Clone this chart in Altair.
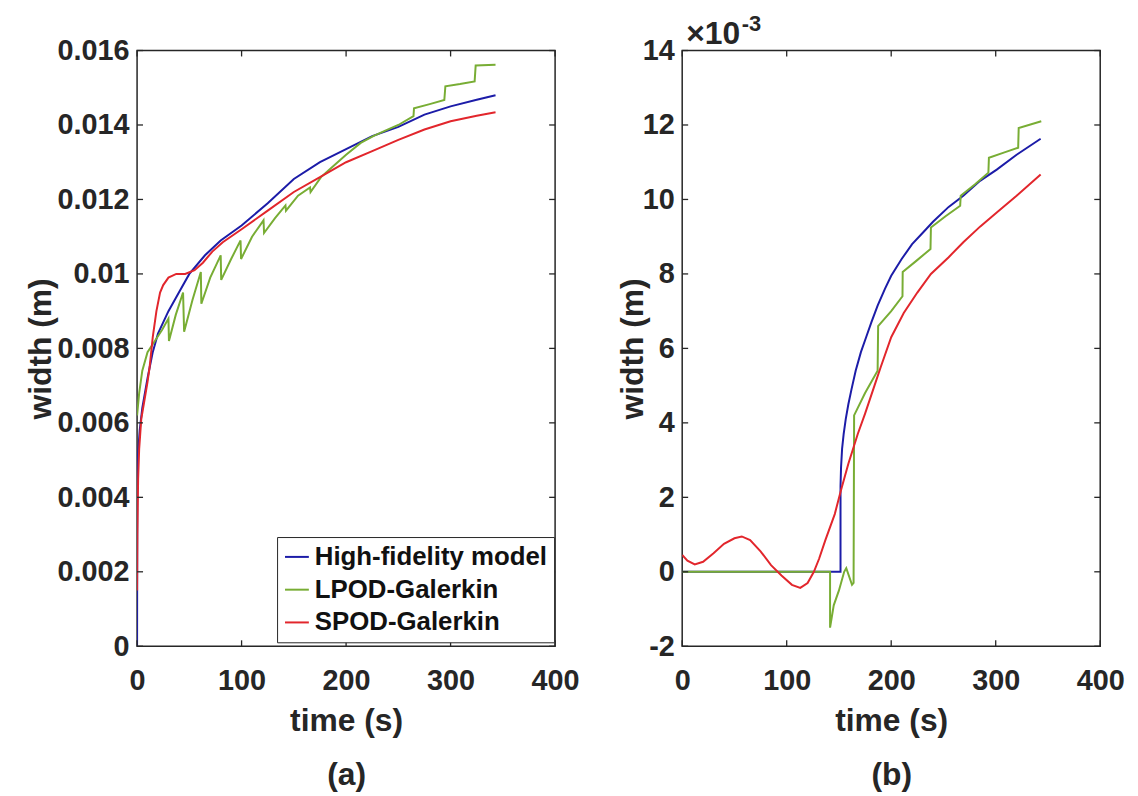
import altair as alt
import pandas as pd

series_names = ["High-fidelity model", "LPOD-Galerkin", "SPOD-Galerkin"]
series_colors = ["#1c1ca8", "#78ad34", "#e2262c"]

# ---------- panel (a) ----------
a_hf_t = [0, 0.2, 1, 2.5, 5, 10, 15, 20, 30, 40, 50, 65, 80, 100, 125, 150, 175, 200, 225, 250, 275, 300, 325, 343]
a_hf_w = [0, 0.0045, 0.0052, 0.0058, 0.0064, 0.0072, 0.0079, 0.0084, 0.0090, 0.0095, 0.0100, 0.0105, 0.0109,
          0.0113, 0.0119, 0.01255, 0.0130, 0.01335, 0.0137, 0.01395, 0.01428, 0.0145, 0.01468, 0.0148]

a_lp_t = [0, 2, 5, 10, 17, 24, 30, 30.5, 37, 44, 45, 53, 61, 61.5, 70, 80, 80.5, 90, 99, 99.5, 110, 121, 121.5,
          132, 142, 142.5, 154, 165.5, 166, 176, 186, 200, 214, 226, 237, 250, 264.5, 265, 280, 294, 295, 309,
          323, 324, 343]
a_lp_w = [0.0062, 0.0068, 0.0074, 0.0079, 0.0082, 0.0085, 0.0088, 0.0082, 0.0089, 0.0095, 0.00845, 0.0093,
          0.01005, 0.0092, 0.0099, 0.0105, 0.00984, 0.0104, 0.0109, 0.0104, 0.0110, 0.01144, 0.0111, 0.0115,
          0.01184, 0.0117, 0.0121, 0.01232, 0.0122, 0.0126, 0.01285, 0.0132, 0.01352, 0.0137, 0.01384, 0.0140,
          0.01424, 0.01445, 0.01456, 0.01467, 0.01504, 0.0151, 0.01517, 0.0156, 0.01562]

a_sp_t = [0, 0.3, 1, 2, 4, 7, 10, 12, 15, 18.5, 22, 25, 30, 37.5, 46, 55, 63, 72, 82, 100, 125, 150, 175, 200,
          225, 250, 275, 300, 325, 343]
a_sp_w = [0.0015, 0.0030, 0.0045, 0.0053, 0.0061, 0.0066, 0.0071, 0.0075, 0.0083, 0.0090, 0.0095, 0.0097,
          0.0099, 0.0100, 0.0100, 0.0101, 0.0103, 0.0106, 0.01085, 0.0112, 0.0117, 0.0122, 0.0126, 0.0130,
          0.0133, 0.0136, 0.01388, 0.0141, 0.01425, 0.01434]

# ---------- panel (b), values in 1e-3 m ----------
b_hf_t = [0, 151.5, 151.5, 152, 153, 154.5, 156.5, 159, 162, 166, 171, 176, 181, 187, 194, 200, 210, 220, 230,
          240, 255, 269, 285, 301, 320, 343]
b_hf_w = [0, 0, 2.3, 2.8, 3.3, 3.7, 4.1, 4.5, 4.9, 5.4, 5.9, 6.3, 6.7, 7.15, 7.6, 7.95, 8.4, 8.8, 9.1,
          9.4, 9.8, 10.1, 10.5, 10.8, 11.2, 11.63]

b_lp_t = [0, 141.5, 141.5, 145, 150, 155, 157, 162.5, 164, 164.5, 175, 187, 187.5, 200, 210.8, 211, 224, 237.6,
          238, 252, 266, 266.5, 280, 293, 293.5, 307, 321.5, 322, 343.6]
b_lp_w = [0, 0, -1.5, -0.9, -0.5, 0.0, 0.1, -0.35, -0.3, 4.2, 4.8, 5.4, 6.6, 7.0, 7.4, 8.05, 8.35, 8.67,
          9.25, 9.55, 9.83, 10.1, 10.4, 10.72, 11.12, 11.25, 11.39, 11.92, 12.1]

b_sp_t = [0, 5, 12, 20, 30, 40, 50, 57, 65, 75, 85, 95, 105, 113, 120, 126, 131, 137, 146, 152, 159, 168, 175,
          184, 190, 200, 212, 225, 238, 255, 269, 285, 301, 320, 343]
b_sp_w = [0.45, 0.3, 0.2, 0.27, 0.5, 0.75, 0.9, 0.95, 0.85, 0.55, 0.18, -0.1, -0.35, -0.43, -0.3, 0.0, 0.35,
          0.85, 1.55, 2.2, 2.9, 3.7, 4.25, 5.0, 5.5, 6.3, 6.95, 7.5, 8.0, 8.45, 8.85, 9.27, 9.65, 10.1, 10.67]

x_ticks = [0, 100, 200, 300, 400]
ya_ticks = [0, 0.002, 0.004, 0.006, 0.008, 0.01, 0.012, 0.014, 0.016]
yb_ticks = [-2, 0, 2, 4, 6, 8, 10, 12, 14]

FONT = "Liberation Sans"
AXC = "#262626"
W, H = 421, 600


def frame(ts, ws, name):
    return pd.DataFrame({"t": ts, "w": ws, "series": name, "i": list(range(len(ts)))})


def panel(dfs, ydom, yticks, label_expr, sub, y_title_x, legend, extra=None):
    df = pd.concat(dfs, ignore_index=True)
    xs = alt.Scale(domain=[0, 400], nice=False, zero=False)
    ys = alt.Scale(domain=ydom, nice=False, zero=False)
    x_axis = alt.Axis(values=x_ticks, title=["time (s)", sub], titleLineHeight=54,
                      labelPadding=21, titlePadding=10, labelFlush=False)
    y_axis = alt.Axis(values=yticks, title="width (m)", labelExpr=label_expr,
                      labelPadding=8, titleX=y_title_x, titleY=H / 2, titleBaseline="middle",
                      labelFlush=False)
    bx = alt.X("t:Q", scale=xs, axis=x_axis)
    by = alt.Y("w:Q", scale=ys, axis=y_axis)
    lines = alt.Chart(df).mark_line(strokeWidth=2, clip=True).encode(
        x=bx, y=by,
        color=alt.Color("series:N", scale=alt.Scale(domain=series_names, range=series_colors), legend=legend),
        detail="series:N",
        order="i:Q",
    )
    xt = pd.DataFrame({"t": x_ticks})
    yt = pd.DataFrame({"w": yticks})
    tick = dict(color=AXC, strokeWidth=1.3)
    t_bot = alt.Chart(xt).mark_rule(**tick).encode(x=bx, y=alt.value(H), y2=alt.value(H - 6))
    t_top = alt.Chart(xt).mark_rule(**tick).encode(x=bx, y=alt.value(0), y2=alt.value(6))
    t_left = alt.Chart(yt).mark_rule(**tick).encode(y=by, x=alt.value(0), x2=alt.value(6))
    t_right = alt.Chart(yt).mark_rule(**tick).encode(y=by, x=alt.value(W), x2=alt.value(W - 6))
    layers = [lines, t_bot, t_top, t_left, t_right]
    if extra:
        layers += extra
    return alt.layer(*layers).properties(width=W, height=H)


legend_a = alt.Legend(orient="none", legendX=141, legendY=490, title=None, symbolType="stroke",
                      symbolSize=576, symbolStrokeWidth=2, labelFont=FONT, labelFontWeight="bold",
                      labelFontSize=26, labelColor="#111111", strokeColor=AXC, fillColor="white",
                      padding=7, rowPadding=7, labelOffset=5, labelLimit=500)

chart_a = panel(
    [frame(a_hf_t, a_hf_w, series_names[0]), frame(a_lp_t, a_lp_w, series_names[1]),
     frame(a_sp_t, a_sp_w, series_names[2])],
    [0, 0.016], ya_ticks, "format(datum.value, '.3~f')", "(a)", -97, legend_a)

exp_base = alt.Chart(pd.DataFrame({"s": ["×10"]})).mark_text(
    font=FONT, fontSize=32, fontWeight="bold", color=AXC, align="left", baseline="alphabetic"
).encode(text="s:N", x=alt.value(4), y=alt.value(-7))
exp_pow = alt.Chart(pd.DataFrame({"s": ["-3"]})).mark_text(
    font=FONT, fontSize=22, fontWeight="bold", color=AXC, align="left", baseline="alphabetic"
).encode(text="s:N", x=alt.value(60), y=alt.value(-20))

chart_b = panel(
    [frame(b_hf_t, b_hf_w, series_names[0]), frame(b_lp_t, b_lp_w, series_names[1]),
     frame(b_sp_t, b_sp_w, series_names[2])],
    [-2, 14], yb_ticks, "'' + datum.value", "(b)", -50, None, extra=[exp_base, exp_pow])

chart = alt.hconcat(chart_a, chart_b, spacing=128, bounds="flush",
                    padding={"left": 16, "top": 1, "right": 5, "bottom": 5}).resolve_scale(
    color="independent"
).configure(background="white").configure_view(stroke=AXC, strokeWidth=1.5).configure_axis(
    labelFont=FONT, labelFontSize=29, labelFontWeight="bold", labelColor=AXC,
    titleFont=FONT, titleFontSize=32, titleFontWeight="bold", titleColor=AXC,
    domain=False, grid=False, tickSize=0
)

chart.save("out.html", embed_options={"renderer": "svg", "actions": False})
